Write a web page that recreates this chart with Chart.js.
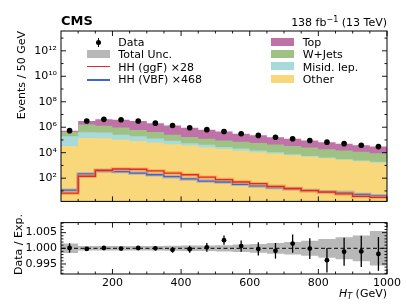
<!DOCTYPE html>
<html><head><meta charset="utf-8">
<script src="https://cdn.jsdelivr.net/npm/chart.js@4"></script>
<style>
html,body{margin:0;padding:0;background:#fff;width:407px;height:305px;overflow:hidden;font-family:'DejaVu Sans',sans-serif;}
#wrap{position:relative;width:407px;height:305px;}
canvas{position:absolute;left:0;}
.t{position:absolute;white-space:nowrap;color:#000;font-size:11px;line-height:11px;font-family:'DejaVu Sans',sans-serif;}
.sw{position:absolute;}
</style></head><body>
<div id="wrap">
<canvas id="main" width="407" height="212" style="top:0;width:407px;height:212px"></canvas>
<canvas id="ratio" width="407" height="93" style="top:212px;width:407px;height:93px"></canvas>

<div class="t" style="left:61px;top:14px;font-size:13px;line-height:13px;font-weight:bold;">CMS</div>
<div class="t" style="right:20px;top:16.7px;">138 fb<span style="font-size:8px;position:relative;top:-4px;">−1</span> (13 TeV)</div>

<div class="t" style="left:0;top:0;width:200px;text-align:right;transform-origin:0 0;transform:translate(15.7px,231px) rotate(-90deg);">Events / 50 GeV</div>
<div class="t" style="left:0;top:0;width:200px;text-align:right;transform-origin:0 0;transform:translate(12.7px,414px) rotate(-90deg);">Data / Exp.</div>
<div class="t" style="right:20px;top:287.7px;"><i>H</i><span style="font-size:8px;position:relative;top:2px;"><i>T</i></span> (GeV)</div>

<!-- legend left -->
<div class="sw" style="left:97.8px;top:38.3px;width:1.3px;height:8.4px;background:#000;"></div>
<div class="sw" style="left:96px;top:40.4px;width:5px;height:5px;border-radius:50%;background:#000;"></div>
<div class="t" style="left:118.3px;top:37.4px;">Data</div>
<div class="sw" style="left:86.7px;top:50px;width:23.3px;height:8.3px;background:#b8b8b8;"></div>
<div class="t" style="left:118.3px;top:49.4px;">Total Unc.</div>
<div class="sw" style="left:86.7px;top:65.7px;width:23.3px;height:1.6px;background:#e42536;"></div>
<div class="t" style="left:118.3px;top:61.7px;">HH (ggF) ×28</div>
<div class="sw" style="left:86.7px;top:79px;width:23.3px;height:1.6px;background:#3d63dd;"></div>
<div class="t" style="left:118.3px;top:74px;">HH (VBF) ×468</div>
<!-- legend right -->
<div class="sw" style="left:271px;top:38.3px;width:23.3px;height:7.7px;background:#c071a8;"></div>
<div class="t" style="left:302.7px;top:37.4px;">Top</div>
<div class="sw" style="left:271px;top:50px;width:23.3px;height:7.7px;background:#9ec283;"></div>
<div class="t" style="left:302.7px;top:49.4px;">W+Jets</div>
<div class="sw" style="left:271px;top:62.3px;width:23.3px;height:7.7px;background:#a8dadc;"></div>
<div class="t" style="left:302.7px;top:61.7px;">Misid. lep.</div>
<div class="sw" style="left:271px;top:75px;width:23.3px;height:7.7px;background:#f9d77b;"></div>
<div class="t" style="left:302.7px;top:74px;">Other</div>
</div>
<script>
// ---------- data ----------
const binEdges   = [50,100,150,200,250,300,350,400,450,500,550,600,650,700,750,800,850,900,950,1000];
const binCenters = [75,125,175,225,275,325,375,425,475,525,575,625,675,725,775,825,875,925,975];

const otherBkg = [33900,144500,134900,102300,81300,61700,45700,36300,25100,19100,14500,11000,8300,6300,4800,3630,2750,2140,1660];
const misidBkg = [161000,263000,245000,155000,114000,70000,39400,19900,16600,9100,6900,4100,2400,1290,820,540,340,260,250];
const wjetsBkg = [222000,1253000,908000,676000,408000,285000,172000,118000,81300,63000,51000,42400,33000,26300,19500,14900,12000,9300,7200];
const topBkg   = [120000,1430000,2880000,2960000,2490000,1670000,1120000,738000,523000,366000,237000,172000,118000,89000,66000,48500,36200,26300,21000];

const dataVals = [537000,3090000,4170000,3890000,3090000,2090000,1380000,912000,646000,457000,309000,229000,162000,123000,91200,67600,51300,38000,30200];

const hhGgF = [6.6,141,417,525,501,372,251,186,120,77.6,50.1,37.2,22.9,15.5,10.5,8.1,5.75,3.7,3.1];
const hhVBF = [11.5,214,363,331,251,186,132,87,59,50,33,24.5,18.6,14.8,11,8.7,7.4,5.2,4.1];

const ratioVals = [1.0001,0.9998,1.0001,0.9999,1.0001,1.0000,0.9995,0.9997,1.0003,1.0026,1.0007,0.9998,0.9992,1.0015,0.9999,0.9962,0.9989,0.9990,0.9982];
const ratioErrs = [0.0015,0.0004,0.0004,0.0004,0.0004,0.0005,0.0009,0.0011,0.0014,0.0015,0.0018,0.0021,0.0025,0.0029,0.0033,0.0039,0.0045,0.0050,0.0054];
const totalUnc  = [0.0015,0.0007,0.0007,0.0007,0.0007,0.0007,0.0008,0.0009,0.0009,0.0010,0.0012,0.0014,0.0017,0.0020,0.0024,0.0030,0.0035,0.0041,0.0055];

const mainYTickExp = [2,4,6,8,10,12];
const xMajorTicks = [200,400,600,800,1000];
const ratioYTicks = [0.995,1.000,1.005];

// ---------- helpers ----------
// histogram outline: two points per bin (left edge, right edge)
function steps(vals){
  const pts = [];
  vals.forEach((v,i)=>{ pts.push({x:binEdges[i], y:v}); pts.push({x:binEdges[i+1], y:v}); });
  return pts;
}
function cumulative(arrs){
  const out=[]; let run = arrs[0].map(()=>0);
  arrs.forEach(a=>{ run = run.map((r,i)=>r+a[i]); out.push(run.slice()); });
  return out;
}
const SUP = {'0':'⁰','1':'¹','2':'²','3':'³','4':'⁴','5':'⁵','6':'⁶','7':'⁷','8':'⁸','9':'⁹','-':'⁻'};
const sup = s => String(s).split('').map(c=>SUP[c]||c).join('');

const COL = {other:'#f9d77b', misid:'#a8dadc', wjets:'#9ec283', top:'#c071a8', band:'#b8b8b8'};
const FONT = {family:"'DejaVu Sans', sans-serif", size:11};

// inward ticks on all four sides + frame
const frameTicks = {
  id:'frameTicks',
  afterDraw(chart, args, o){
    const {ctx, chartArea:a, scales} = chart;
    const x = scales.x, y = scales.y;
    ctx.save();
    ctx.strokeStyle='#000'; ctx.lineWidth=0.9;
    const xt = (v,len)=>{ const p = x.getPixelForValue(v);
      ctx.beginPath(); ctx.moveTo(p,a.bottom); ctx.lineTo(p,a.bottom-len);
      ctx.moveTo(p,a.top); ctx.lineTo(p,a.top+len); ctx.stroke(); };
    const yt = (v,len)=>{ const p = y.getPixelForValue(v);
      ctx.beginPath(); ctx.moveTo(a.left,p); ctx.lineTo(a.left+len,p);
      ctx.moveTo(a.right,p); ctx.lineTo(a.right-len,p); ctx.stroke(); };
    (o.xMinor||[]).forEach(v=>xt(v,2.5));
    (o.xMajor||[]).forEach(v=>xt(v,5));
    (o.yMinor||[]).forEach(v=>yt(v,2.5));
    (o.yMajor||[]).forEach(v=>yt(v,5));
    ctx.lineWidth=1;
    ctx.strokeRect(a.left, a.top, a.right-a.left, a.bottom-a.top);
    ctx.restore();
  }
};
const errorBars = {
  id:'errorBars',
  afterDatasetsDraw(chart){
    const {ctx, scales:{x,y}} = chart;
    chart.data.datasets.forEach(ds=>{
      if(!ds.errors) return;
      ctx.save(); ctx.strokeStyle='#000'; ctx.lineWidth=1.3;
      ds.data.forEach((p,j)=>{
        const px = x.getPixelForValue(p.x);
        ctx.beginPath();
        ctx.moveTo(px, y.getPixelForValue(p.y-ds.errors[j]));
        ctx.lineTo(px, y.getPixelForValue(p.y+ds.errors[j]));
        ctx.stroke();
      });
      ctx.restore();
    });
  }
};

const xMinor = binEdges.filter(v=>!xMajorTicks.includes(v) && v>50);

// ---------- main panel ----------
// stacked histogram: each cumulative level filled down to the axis start,
// larger levels drawn first (higher order = drawn underneath)
const cum = cumulative([otherBkg, misidBkg, wjetsBkg, topBkg]);
const area = (vals,color,order)=>({data:steps(vals), fill:'start', backgroundColor:color, borderWidth:0, pointRadius:0, borderColor:color, order:order});
const hline = (vals,color,w,order)=>({data:steps(vals), fill:false, borderColor:color, borderWidth:w, pointRadius:0, order:order, borderJoinStyle:'miter'});

new Chart(document.getElementById('main'), {
  type:'line',
  data:{datasets:[
    area(cum[0], COL.other, 17),
    area(cum[1], COL.misid, 18),
    area(cum[2], COL.wjets, 19),
    area(cum[3], COL.top, 20),
    hline(hhVBF, 'rgba(120,130,190,0.45)', 3.5, 9),
    hline(hhVBF, '#3d63dd', 1.3, 8),
    hline(hhGgF, 'rgba(248,150,40,0.6)', 3.5, 7),
    hline(hhGgF, '#e42536', 1.3, 6),
    {data: dataVals.map((v,i)=>({x:binCenters[i], y:v})), showLine:false, pointRadius:2.8, pointBackgroundColor:'#000', pointBorderWidth:0, borderColor:'#000', order:1}
  ]},
  options:{
    responsive:false, animation:false, devicePixelRatio:1,
    layout:{padding:{top:31,right:20,bottom:3,left:0}},
    plugins:{legend:{display:false}, tooltip:{enabled:false},
      filler:{propagate:false},
      frameTicks:{xMajor:xMajorTicks, xMinor:xMinor,
        yMajor:mainYTickExp.map(e=>Math.pow(10,e)),
        yMinor:[1,3,5,7,9,11,13].map(e=>Math.pow(10,e))}},
    scales:{
      x:{type:'linear', min:50, max:1000, display:false},
      y:{type:'logarithmic', min:1.5, max:3.6e13,
         afterBuildTicks:s=>{ s.ticks = mainYTickExp.map(e=>({value:Math.pow(10,e)})); },
         afterFit:s=>{ s.width=61; },
         grid:{display:false, drawTicks:false}, border:{display:false},
         ticks:{font:FONT, color:'#000', padding:4, autoSkip:false,
           callback:v=>'10'+sup(Math.round(Math.log10(v)))}}
    }
  },
  plugins:[frameTicks]
});

// ---------- ratio panel ----------
const bandUp = totalUnc.map(u=>1+u);
const bandDn = totalUnc.map(u=>1-u);
new Chart(document.getElementById('ratio'), {
  type:'line',
  data:{datasets:[
    {data:steps(bandUp), fill:{value:1}, backgroundColor:COL.band, borderWidth:0, pointRadius:0, order:10},
    {data:steps(bandDn), fill:{value:1}, backgroundColor:COL.band, borderWidth:0, pointRadius:0, order:11},
    {data:[{x:50,y:1},{x:1000,y:1}], borderColor:'#000', borderWidth:1, borderDash:[4,2.5], pointRadius:0, fill:false, order:5},
    {data: ratioVals.map((v,i)=>({x:binCenters[i], y:v})), errors:ratioErrs, showLine:false, pointRadius:2.4, pointBackgroundColor:'#000', pointBorderWidth:0, borderColor:'#000', order:1}
  ]},
  options:{
    responsive:false, animation:false, devicePixelRatio:1,
    layout:{padding:{top:2,right:20,bottom:0,left:0}},
    plugins:{legend:{display:false}, tooltip:{enabled:false},
      frameTicks:{xMajor:xMajorTicks, xMinor:xMinor,
        yMajor:ratioYTicks, yMinor:[0.992,0.993,0.994,0.996,0.997,0.998,0.999,1.001,1.002,1.003,1.004,1.006,1.007,1.008]}},
    scales:{
      x:{type:'linear', min:50, max:1000,
         afterBuildTicks:s=>{ s.ticks = xMajorTicks.map(v=>({value:v})); },
         afterFit:s=>{ s.height=31; },
         grid:{display:false, drawTicks:false}, border:{display:false},
         ticks:{font:FONT, color:'#000', padding:3, autoSkip:false, maxRotation:0, callback:v=>String(v)}},
      y:{type:'linear', min:0.9918, max:1.0082,
         afterBuildTicks:s=>{ s.ticks = ratioYTicks.map(v=>({value:v})); },
         afterFit:s=>{ s.width=61; },
         grid:{display:false, drawTicks:false}, border:{display:false},
         ticks:{font:FONT, color:'#000', padding:4, autoSkip:false, callback:v=>v.toFixed(3)}}
    }
  },
  plugins:[frameTicks, errorBars]
});
</script>
</body></html>
